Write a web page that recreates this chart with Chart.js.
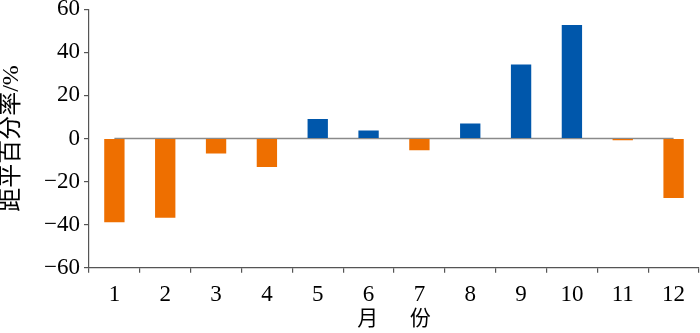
<!DOCTYPE html>
<html>
<head>
<meta charset="utf-8">
<script src="https://cdn.jsdelivr.net/npm/chart.js@4/dist/chart.umd.min.js"></script>
<style>
  html, body { margin: 0; padding: 0; background: #fff; }
  #wrap { width: 700px; height: 333px; }
</style>
</head>
<body>
<div id="wrap"><canvas id="chart" width="700" height="333"></canvas></div>
<script>
// months and anomaly percentages
const months = ['1', '2', '3', '4', '5', '6', '7', '8', '9', '10', '11', '12'];
const anomaly = [-38.9, -36.8, -6.9, -13.2, 9.1, 3.7, -5.4, 7.0, 34.3, 52.7, -0.8, -27.6];
const baseline = [0, 0, 0, 0, 0, 0, 0, 0, 0, 0, 0, 0];
const yTicks = [-60, -40, -20, 0, 20, 40, 60];

const orange = '#ee6f00';
const blue = '#0057ab';
const axisColor = '#555';
const serif = "'Liberation Serif', 'Noto Sans CJK SC', serif";

function barColor(v) {
    return v < 0 ? orange : blue;
}

new Chart(document.getElementById('chart').getContext('2d'), {
    data: {
        labels: months,
        datasets: [
            {
                type: 'bar',
                data: anomaly,
                backgroundColor: anomaly.map(barColor),
                borderWidth: 0,
                barPercentage: 0.4,
                categoryPercentage: 1,
                order: 1
            },
            {
                type: 'line',
                data: baseline,
                borderColor: '#8a8a8a',
                borderWidth: 1.5,
                pointRadius: 0,
                order: 2
            }
        ]
    },
    options: {
        responsive: false,
        animation: false,
        layout: { padding: { top: 0, right: 1, left: 0, bottom: 0 } },
        plugins: { legend: { display: false }, tooltip: { enabled: false } },
        scales: {
            x: {
                offset: true,
                grid: { offset: true, drawOnChartArea: false, tickLength: 5, color: axisColor, lineWidth: 1.2 },
                border: { color: axisColor, width: 1.2 },
                ticks: { color: '#000', padding: 11, font: { family: serif, size: 23, lineHeight: 1 } },
                title: {
                    display: true,
                    text: '月      份',
                    color: '#000',
                    padding: { top: -10, bottom: 1 },
                    font: { family: serif, size: 21, lineHeight: 1.15 }
                }
            },
            y: {
                min: -60,
                max: 60,
                afterBuildTicks: axis => { axis.ticks = yTicks.map(v => ({ value: v })); },
                grid: { drawOnChartArea: false, tickLength: 5, color: axisColor, lineWidth: 1.2 },
                border: { color: axisColor, width: 1.2 },
                ticks: {
                    color: '#000',
                    padding: 4,
                    font: { family: serif, size: 23, lineHeight: 0.45 },
                    callback: v => v < 0 ? '\u2212' + Math.abs(v) : String(v)
                },
                title: {
                    display: true,
                    text: '距平百分率/%',
                    color: '#000',
                    padding: { top: 0, bottom: 16 },
                    font: { family: serif, size: 24, lineHeight: 1 }
                }
            }
        }
    }
});
</script>
</body>
</html>
